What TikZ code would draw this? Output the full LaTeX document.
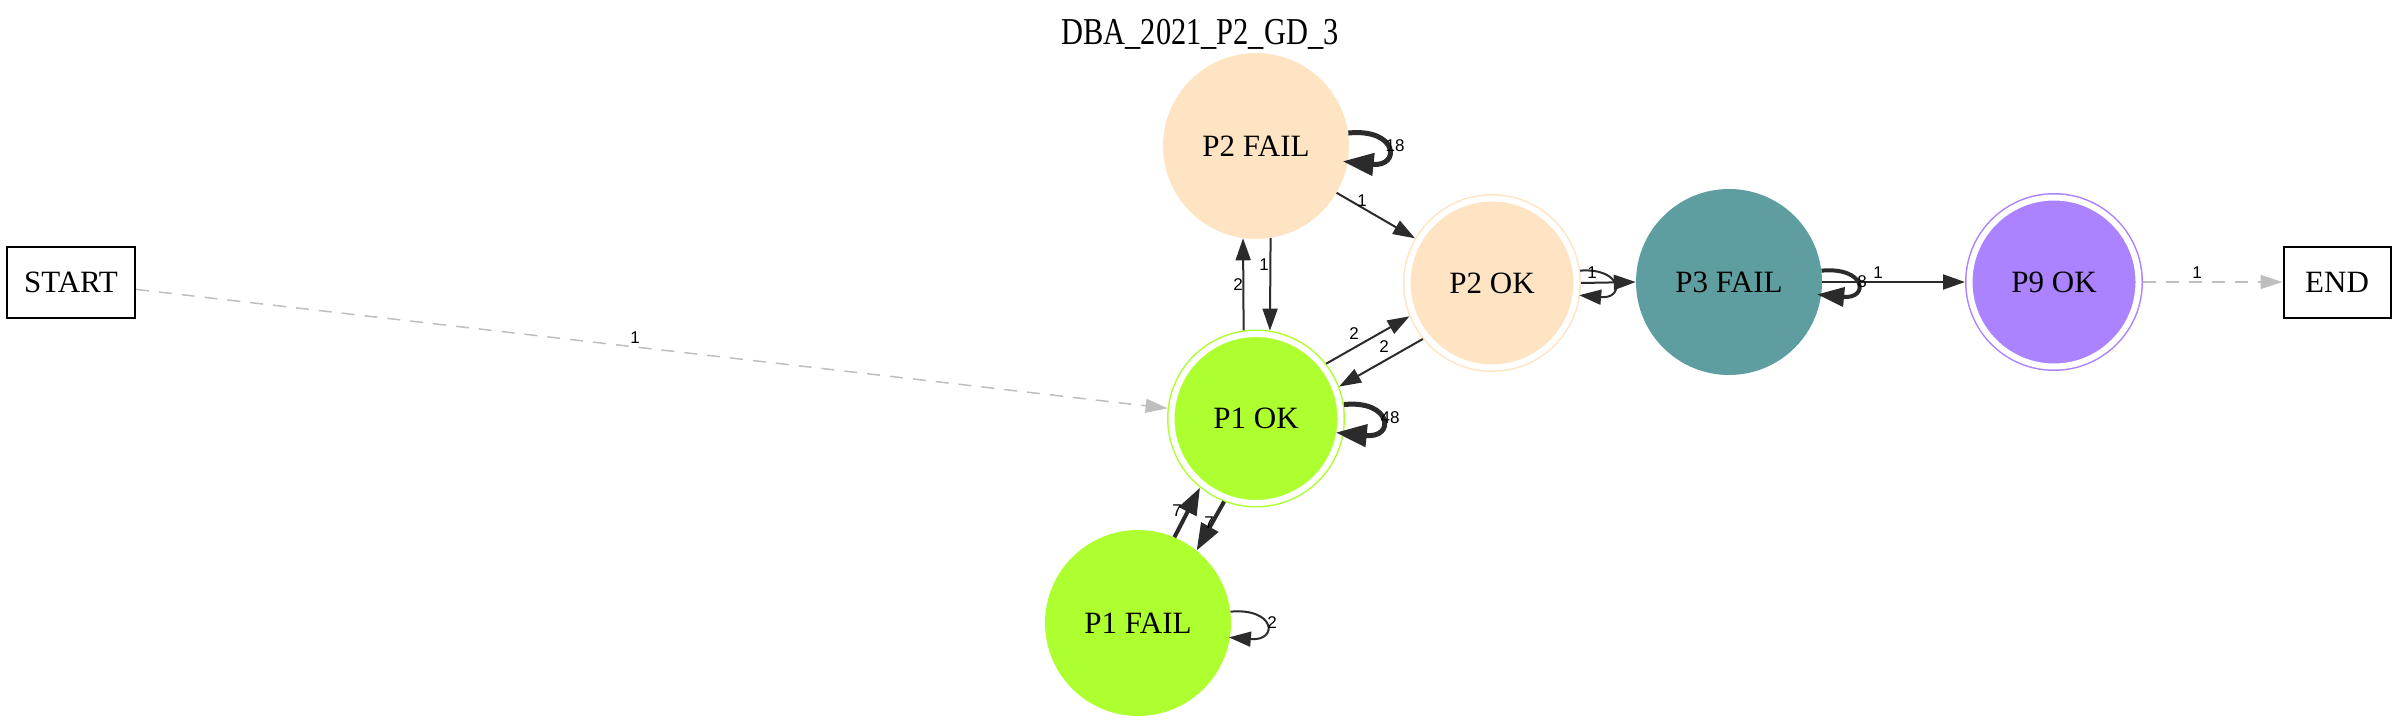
\documentclass[tikz,border=0pt]{standalone}
\usepackage{fontspec}
\setmainfont{Liberation Serif}
\newfontfamily\lblfont{Liberation Sans}
\newfontfamily\titlefont[FakeStretch=0.8]{Liberation Serif}
\usetikzlibrary{arrows.meta}
\definecolor{bisque}{HTML}{FFE4C4}
\definecolor{greenyel}{HTML}{ADFF2F}
\definecolor{cadet}{HTML}{5F9EA0}
\definecolor{purp}{HTML}{AB82FF}
\definecolor{edgec}{HTML}{2B2B2B}
\definecolor{greyc}{HTML}{BEBEBE}

\begin{document}
\begin{tikzpicture}[x=1pt,y=1pt,inner sep=0pt]
  \useasboundingbox(0,0)rectangle(2400,-725);
  \tikzstyle{box}=[rectangle,draw=black,line width=2pt,font=\fontsize{31}{36}\selectfont]
  \tikzstyle{sc}=[circle,minimum size=186pt,font=\fontsize{31}{36}\selectfont]
  \tikzstyle{dc}=[circle,minimum size=169pt,line width=1.5pt,double=white,double distance=6pt,outer sep=4.5pt,font=\fontsize{31}{36}\selectfont]
  \tikzstyle{lb}=[font=\lblfont\fontsize{17}{20}\selectfont]
  \node[anchor=base,font=\titlefont\fontsize{38}{42}\selectfont](title)at(1200,-45){DBA\_2021\_P2\_GD\_3};
  \node[box,minimum width=128pt,minimum height=71pt](start)at(71,-282){START};
  \node[box,minimum width=107pt,minimum height=71pt](end)at(2337,-282){END};
  \node[sc,fill=bisque](p2f)at(1256,-146){P2 FAIL};
  \node[dc,fill=bisque,draw=bisque](p2ok)at(1492,-283){P2 OK};
  \node[sc,fill=cadet](p3f)at(1729,-282){P3 FAIL};
  \node[dc,fill=purp,draw=purp](p9ok)at(2054,-282){P9 OK};
  \node[dc,fill=greenyel,draw=greenyel](p1ok)at(1256,-418.5){P1 OK};
  \node[sc,fill=greenyel](p1f)at(1138,-623){P1 FAIL};
  \tikzstyle{e}=[-{Triangle[length=22pt,width=15pt]},draw=edgec,line width=2pt]
  \tikzstyle{et}=[-{Triangle[length=27pt,width=19pt]},draw=edgec,line width=4pt]
  \tikzstyle{eh}=[-{Triangle[length=31pt,width=22pt]},draw=edgec,line width=5pt]
  \tikzstyle{eg}=[-{Triangle[length=22pt,width=14pt]},draw=greyc,line width=1.5pt,dash pattern=on 13pt off 10pt]
  \foreach\o/\d in{p2f/p2ok,p2f.-81/p1ok.81,p1ok.98/p2f.262,p1ok.38/p2ok.202,p2ok.219/p1ok.21,p2ok.east/p3f.west,p3f.east/p9ok.west}{\draw[e](\o)--(\d);}
  \foreach\o/\d in{p1ok.249/p1f.51,p1f.67/p1ok.231}{\draw[et](\o)--(\d);}
  \foreach\o/\d in{start/p1ok,p9ok.east/end.west}{\draw[eg](\o)--(\d);}
  % self loops
  \draw[eh](p2f.8)..controls+(50,5)and+(58,-6)..([shift={(-10:88)}]p2f.center);
  \draw[eh](p1ok.9)..controls+(48,5)and+(60,-6)..([shift={(-10:81)}]p1ok.center);
  \draw[e](p1f.7)..controls+(45,4)and+(50,-4)..([shift={(-9:92)}]p1f.center);
  \draw[e](p2ok.8)..controls+(42,3)and+(46,-4)..([shift={(-8:88)}]p2ok.center);
  \draw[et](p3f.7)..controls+(45,4)and+(52,-5)..([shift={(-8:89)}]p3f.center);
  % edge counts
  \foreach\t/\x/\y[count=\i]in{1/635/-338,18/1395/-146,1/1362/-201,1/1264/-265,2/1238/-285,2/1354/-334,2/1384/-347,48/1390/-418,7/1209/-523,7/1177/-511,2/1272/-623,1/1592/-273,8/1862/-282,1/1878/-273,1/2197/-273}{\node[lb](l\i)at(\x,\y){\t};}
\end{tikzpicture}
\end{document}
